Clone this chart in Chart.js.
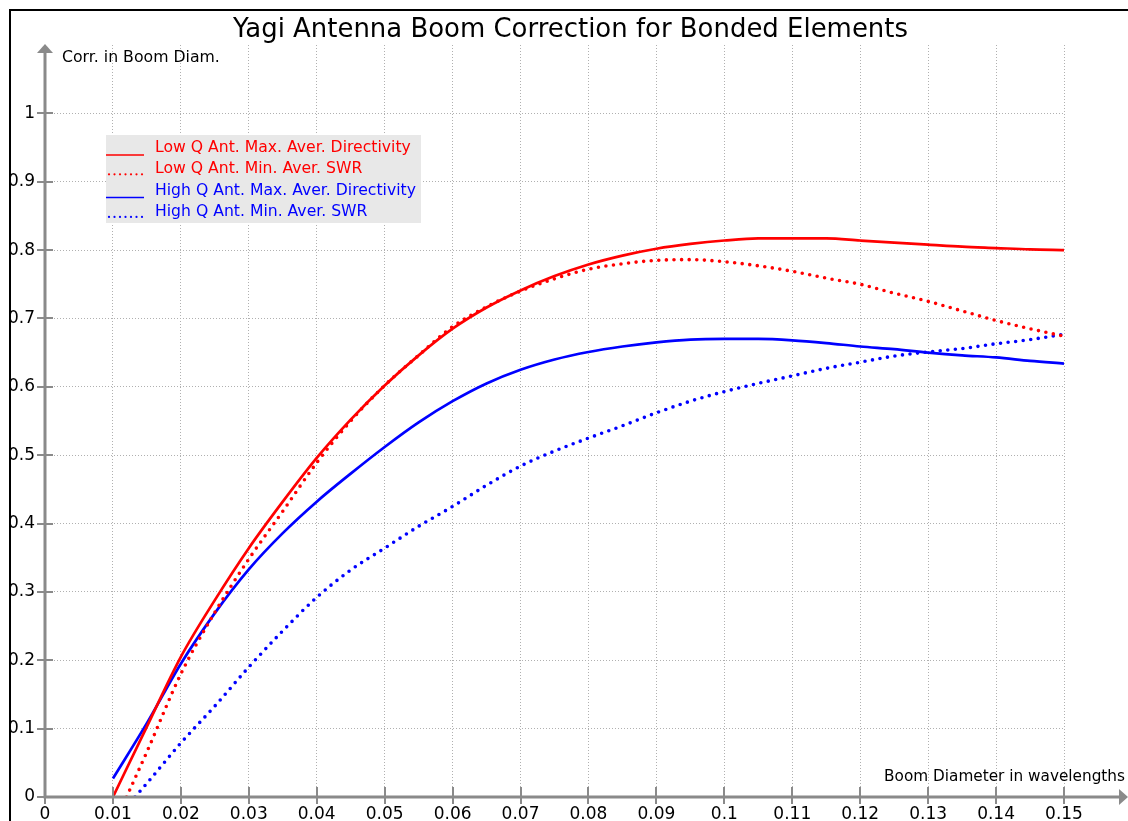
<!DOCTYPE html>
<html>
<head>
<meta charset="utf-8">
<script src="https://cdn.jsdelivr.net/npm/chart.js@4/dist/chart.umd.min.js"></script>
<style>
  html, body { margin: 0; padding: 0; background: #ffffff; }
  #wrap { width: 1128px; height: 821px; position: relative; }
</style>
</head>
<body>
<div id="wrap"><canvas id="c" width="1128" height="821"></canvas></div>
<script>
// ---- data ----
const chartTitle = 'Yagi Antenna Boom Correction for Bonded Elements';
const yAxisTitle = 'Corr. in Boom Diam.';
const xAxisTitle = 'Boom Diameter in wavelengths';

const xTickValues = [0,0.01,0.02,0.03,0.04,0.05,0.06,0.07,0.08,0.09,0.1,0.11,0.12,0.13,0.14,0.15];
const xTickLabels = ['0','0.01','0.02','0.03','0.04','0.05','0.06','0.07','0.08','0.09','0.1','0.11','0.12','0.13','0.14','0.15'];
const yTickValues = [0,0.1,0.2,0.3,0.4,0.5,0.6,0.7,0.8,0.9,1];
const yTickLabels = ['0','0.1','0.2','0.3','0.4','0.5','0.6','0.7','0.8','0.9','1'];

const seriesLabels = [
  'Low Q Ant. Max. Aver. Directivity',
  'Low Q Ant. Min. Aver. SWR',
  'High Q Ant. Max. Aver. Directivity',
  'High Q Ant. Min. Aver. SWR'
];

const xLowDir  = [0.01,0.015,0.02,0.025,0.03,0.035,0.04,0.045,0.05,0.055,0.06,0.065,0.07,0.075,0.08,0.085,0.09,0.095,0.1,0.105,0.11,0.115,0.12,0.125,0.13,0.135,0.14,0.145,0.15];
const yLowDir  = [0,0.103,0.205,0.288,0.364,0.432,0.496,0.552,0.602,0.646,0.685,0.716,0.741,0.762,0.779,0.792,0.802,0.809,0.814,0.817,0.817,0.817,0.814,0.811,0.808,0.805,0.803,0.801,0.800];

const xLowSwr  = [0.012,0.015,0.02,0.025,0.03,0.035,0.04,0.045,0.05,0.055,0.06,0.065,0.07,0.075,0.08,0.085,0.09,0.095,0.1,0.105,0.11,0.115,0.12,0.125,0.13,0.135,0.14,0.145,0.15];
const yLowSwr  = [0,0.066,0.18,0.27,0.348,0.418,0.489,0.55,0.602,0.646,0.688,0.717,0.74,0.758,0.772,0.78,0.785,0.786,0.783,0.777,0.769,0.759,0.75,0.737,0.725,0.711,0.697,0.685,0.674];

const xHighDir = [0.01,0.015,0.02,0.025,0.03,0.035,0.04,0.045,0.05,0.055,0.06,0.065,0.07,0.075,0.08,0.085,0.09,0.095,0.1,0.105,0.11,0.115,0.12,0.125,0.13,0.135,0.14,0.145,0.15];
const yHighDir = [0.027,0.108,0.195,0.269,0.333,0.386,0.432,0.473,0.512,0.548,0.579,0.605,0.625,0.64,0.651,0.659,0.665,0.669,0.67,0.67,0.668,0.664,0.659,0.655,0.65,0.646,0.643,0.638,0.634];

const xHighSwr = [0.01325,0.015,0.02,0.025,0.03,0.035,0.04,0.045,0.05,0.055,0.06,0.065,0.07,0.075,0.08,0.085,0.09,0.095,0.1,0.105,0.11,0.115,0.12,0.125,0.13,0.135,0.14,0.145,0.15];
const yHighSwr = [0,0.02,0.079,0.133,0.19,0.243,0.292,0.332,0.364,0.396,0.425,0.456,0.484,0.506,0.525,0.543,0.562,0.579,0.593,0.605,0.616,0.627,0.636,0.645,0.651,0.656,0.663,0.669,0.677];

const seriesColors = ['#ff0000','#ff0000','#0000ff','#0000ff'];
const seriesDotted = [false,true,false,true];

// ---- build ----
const FONT = "'DejaVu Sans', 'Noto Sans', sans-serif";
const pairs = (xs, ys) => xs.map((x, i) => ({x: x, y: ys[i]}));
const allX = [xLowDir, xLowSwr, xHighDir, xHighSwr];
const allY = [yLowDir, yLowSwr, yHighDir, yHighSwr];

const datasets = seriesLabels.map((lab, i) => ({
  label: lab,
  data: pairs(allX[i], allY[i]),
  borderColor: seriesColors[i],
  backgroundColor: seriesColors[i],
  borderWidth: seriesDotted[i] ? 3.6 : 2.7,
  borderDash: seriesDotted[i] ? [0, 7.6] : [],
  borderCapStyle: seriesDotted[i] ? 'round' : 'butt',
  pointRadius: 0,
  cubicInterpolationMode: 'monotone',
  fill: false
}));

// draw text scaled to a target width (keeps text real, matches reference size)
function fitText(ctx, text, x, y, targetW, baseSize) {
  ctx.font = baseSize + 'px ' + FONT;
  const w = ctx.measureText(text).width;
  const size = baseSize * targetW / w;
  ctx.font = size.toFixed(2) + 'px ' + FONT;
  ctx.fillText(text, x, y);
}

const decor = {
  id: 'decor',
  beforeDraw(chart) {
    const ctx = chart.ctx;
    ctx.save();
    ctx.fillStyle = '#ffffff';
    ctx.fillRect(0, 0, chart.width, chart.height);
    ctx.restore();
  },
  afterDraw(chart) {
    const ctx = chart.ctx;
    const xs = chart.scales.x, ys = chart.scales.y;
    const x0 = xs.getPixelForValue(0), y0 = ys.getPixelForValue(0);
    const top = chart.chartArea.top;
    ctx.save();
    // frame
    ctx.strokeStyle = '#000000';
    ctx.lineWidth = 2;
    ctx.beginPath();
    ctx.moveTo(10, chart.height);
    ctx.lineTo(10, 10);
    ctx.lineTo(chart.width, 10);
    ctx.stroke();
    // axes
    const axisColor = '#8a8a8a';
    ctx.strokeStyle = axisColor;
    ctx.fillStyle = axisColor;
    ctx.lineWidth = 3;
    ctx.beginPath();
    ctx.moveTo(x0, y0 + 1.5);
    ctx.lineTo(x0, top + 6);
    ctx.moveTo(x0 - 1.5, y0);
    ctx.lineTo(chart.width - 7, y0);
    ctx.stroke();
    ctx.beginPath();
    ctx.moveTo(x0, top - 1);
    ctx.lineTo(x0 - 8, top + 8);
    ctx.lineTo(x0 + 8, top + 8);
    ctx.closePath();
    ctx.fill();
    ctx.beginPath();
    ctx.moveTo(chart.width, y0);
    ctx.lineTo(chart.width - 9, y0 - 8);
    ctx.lineTo(chart.width - 9, y0 + 8);
    ctx.closePath();
    ctx.fill();
    // tick marks
    ctx.lineWidth = 2;
    ctx.beginPath();
    yTickValues.forEach(v => {
      const p = Math.round(ys.getPixelForValue(v));
      ctx.moveTo(x0 - 8, p); ctx.lineTo(x0 + 8, p);
    });
    xTickValues.forEach(v => {
      const p = Math.round(xs.getPixelForValue(v));
      ctx.moveTo(p, y0 - 10); ctx.lineTo(p, y0 + 7);
    });
    ctx.stroke();
    // title
    ctx.fillStyle = '#000000';
    ctx.textBaseline = 'middle';
    ctx.textAlign = 'center';
    fitText(ctx, chartTitle, 570.5, 30, 675, 26);
    // axis titles
    ctx.textAlign = 'left';
    fitText(ctx, yAxisTitle, 62, 58, 158, 15);
    ctx.textAlign = 'right';
    fitText(ctx, xAxisTitle, 1125, 777, 241, 15);
    // legend
    ctx.fillStyle = '#e8e8e8';
    ctx.fillRect(106, 135, 315, 88);
    ctx.textAlign = 'left';
    ctx.font = '15px ' + FONT;
    const refW = ctx.measureText(seriesLabels[0]).width;
    const legSize = 15 * 256 / refW;
    chart.data.datasets.forEach((ds, i) => {
      const cy = 148 + i * 21.3;
      ctx.fillStyle = ds.borderColor;
      ctx.font = legSize.toFixed(2) + 'px ' + FONT;
      ctx.fillText(ds.label, 155, cy);
      ctx.strokeStyle = ds.borderColor;
      if (seriesDotted[i]) {
        for (let k = 0; k < 7; k++) {
          ctx.beginPath();
          ctx.arc(109 + k * 5.5, cy + 5, 1.1, 0, Math.PI * 2);
          ctx.fill();
        }
      } else {
        ctx.lineWidth = 1.5;
        ctx.beginPath();
        ctx.moveTo(106, cy + 7);
        ctx.lineTo(144, cy + 7);
        ctx.stroke();
      }
    });
    ctx.restore();
  }
};

new Chart(document.getElementById('c'), {
  type: 'line',
  data: { datasets: datasets },
  options: {
    responsive: false,
    animation: false,
    devicePixelRatio: 1,
    layout: { padding: { top: 45, right: 64, left: 0, bottom: 0 } },
    plugins: { legend: { display: false }, title: { display: false }, tooltip: { enabled: false } },
    scales: {
      x: {
        type: 'linear',
        min: 0, max: 0.15,
        afterFit(scale) { scale.height = 24; },
        afterBuildTicks(scale) { scale.ticks = xTickValues.map(v => ({ value: v })); },
        ticks: {
          autoSkip: false, maxRotation: 0, padding: 7,
          color: '#000000',
          font: { family: FONT, size: 17 },
          callback: (v) => xTickLabels[xTickValues.indexOf(v)] ?? ''
        },
        grid: { color: '#b0b0b0', lineWidth: 1, drawTicks: false, borderDash: [1, 2] },
        border: { display: false, dash: [1, 2] }
      },
      y: {
        type: 'linear',
        min: 0, max: 1.1,
        afterFit(scale) { scale.width = 45; },
        afterBuildTicks(scale) { scale.ticks = yTickValues.map(v => ({ value: v })); },
        ticks: {
          autoSkip: false, padding: 10,
          color: '#000000',
          font: { family: FONT, size: 17 },
          callback: (v) => yTickLabels[yTickValues.indexOf(v)] ?? ''
        },
        grid: { color: '#b0b0b0', lineWidth: 1, drawTicks: false, borderDash: [1, 2] },
        border: { display: false, dash: [1, 2] }
      }
    }
  },
  plugins: [decor]
});
</script>
</body>
</html>
